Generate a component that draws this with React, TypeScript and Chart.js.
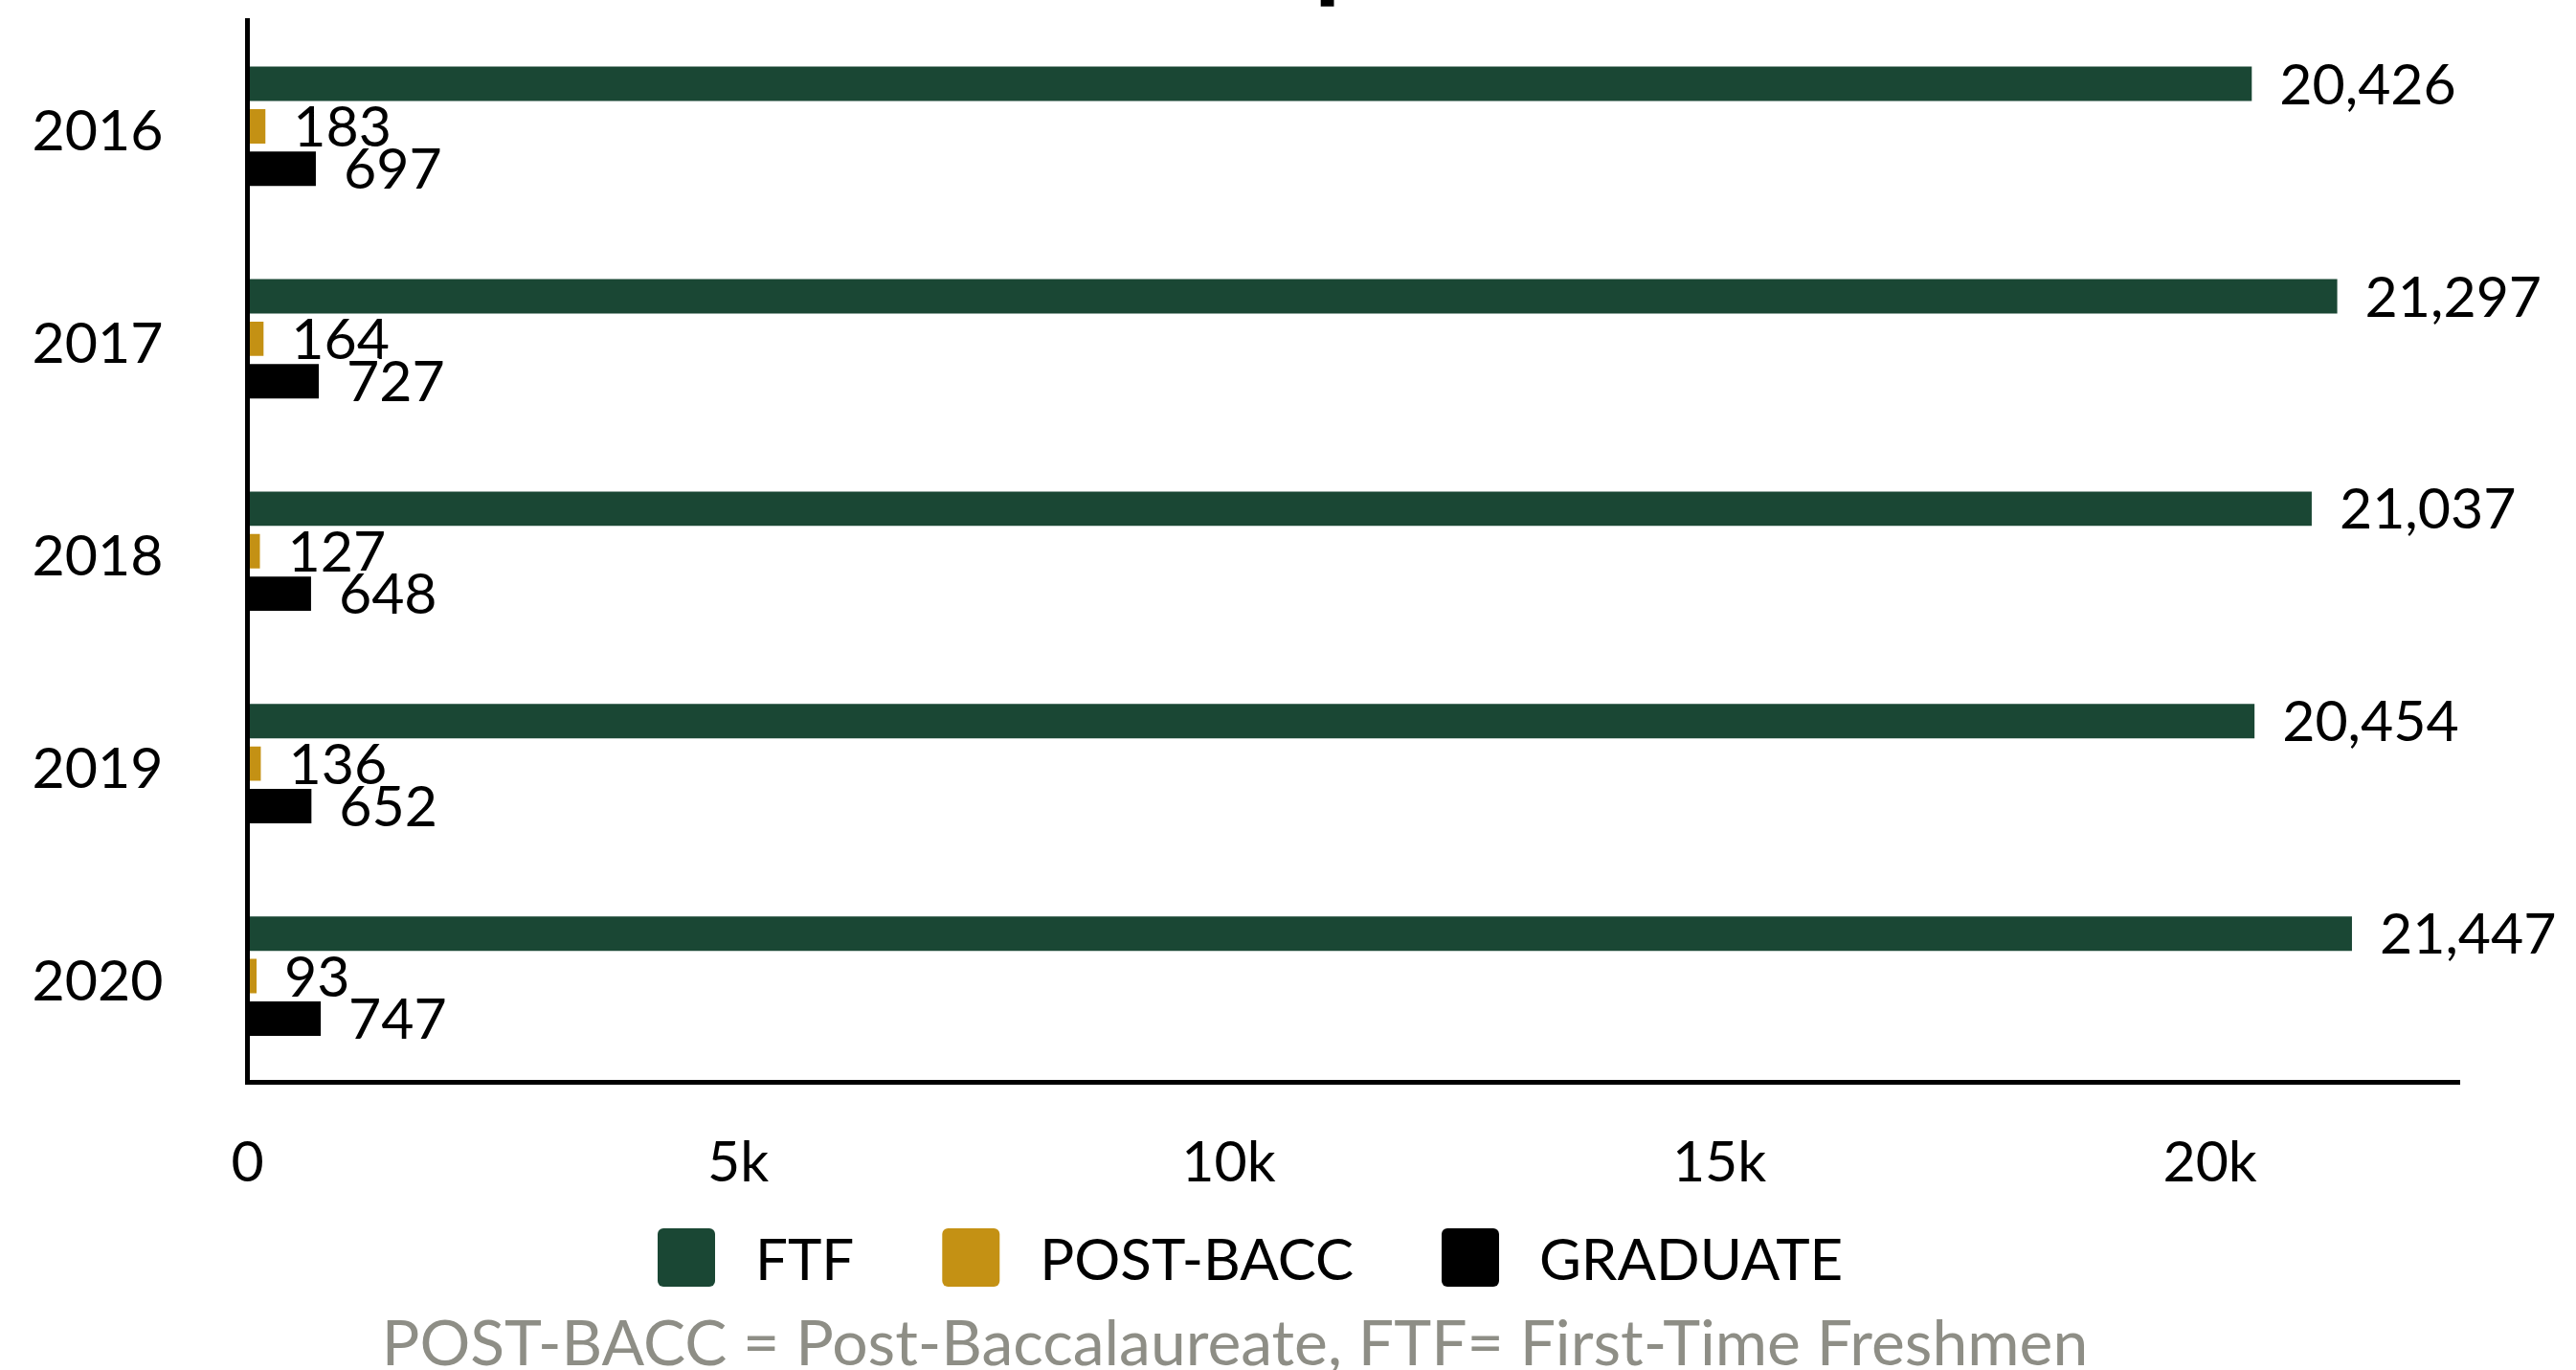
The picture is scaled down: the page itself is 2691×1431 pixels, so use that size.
import React, { useEffect, useRef } from "react";
import { Chart, registerables } from "chart.js";

Chart.register(...registerables);

const categories = ["2016", "2017", "2018", "2019", "2020"];
const ftfValues = [20426, 21297, 21037, 20454, 21447];
const postBaccValues = [183, 164, 127, 136, 93];
const graduateValues = [697, 727, 648, 652, 747];
const seriesNames = ["FTF", "POST-BACC", "GRADUATE"];
const seriesColors = ["#1a4734", "#c49114", "#000000"];
const xTickValues = [0, 5000, 10000, 15000, 20000];
const xTickLabels = ["0", "5k", "10k", "15k", "20k"];
const xMax = 22540;
const titleText = "Student Admission Comparison";
const footnote = "POST-BACC = Post-Baccalaureate, FTF= First-Time Freshmen";

const W = 2691;
const H = 1431;
const FONT = "Lato, 'Noto Sans', sans-serif";

const valueLabelPlugin = {
  id: "valueLabels",
  afterDatasetsDraw(chart: any) {
    const ctx = chart.ctx;
    ctx.save();
    ctx.font = `59px ${FONT}`;
    ctx.textAlign = "left";
    ctx.textBaseline = "middle";
    ctx.lineJoin = "round";
    chart.data.datasets.forEach((ds: any, di: number) => {
      const meta = chart.getDatasetMeta(di);
      meta.data.forEach((el: any, i: number) => {
        const txt = Number(ds.data[i]).toLocaleString("en-US");
        const x = el.x + 29;
        const y = el.y + 2;
        ctx.strokeStyle = "#ffffff";
        ctx.lineWidth = 6;
        ctx.strokeText(txt, x, y);
        ctx.fillStyle = "#000000";
        ctx.fillText(txt, x, y);
      });
    });
    ctx.restore();
  },
};

const decorPlugin = {
  id: "decor",
  afterDraw(chart: any) {
    const ctx = chart.ctx;
    ctx.save();
    // Title (mostly cut off at the top of the page)
    ctx.font = `900 100px ${FONT}`;
    ctx.fillStyle = "#000000";
    ctx.textAlign = "left";
    ctx.textBaseline = "alphabetic";
    const pre = ctx.measureText("Student Admission Com").width;
    ctx.fillText(titleText, 1382 - 8 - pre, -10);

    // Legend
    ctx.font = `60px ${FONT}`;
    ctx.textBaseline = "middle";
    let x = 687;
    const boxW = 60;
    const boxH = 61;
    const boxY = 1283;
    seriesNames.forEach((name, i) => {
      ctx.fillStyle = seriesColors[i];
      ctx.beginPath();
      (ctx as any).roundRect(x, boxY, boxW, boxH, 6);
      ctx.fill();
      const tx = x + boxW + 42;
      ctx.fillStyle = "#000000";
      ctx.fillText(name, tx, boxY + boxH / 2 + 4);
      x = tx + ctx.measureText(name).width + 92;
    });

    // Footnote
    ctx.font = `66px ${FONT}`;
    ctx.fillStyle = "#8e8e86";
    ctx.textAlign = "center";
    ctx.textBaseline = "alphabetic";
    ctx.fillText(footnote, 1290, 1426);
    ctx.restore();
  },
};

export default function App() {
  const ref = useRef<HTMLCanvasElement | null>(null);
  useEffect(() => {
    if (!ref.current) return;
    const chart = new Chart(ref.current, {
      type: "bar",
      data: {
        labels: categories,
        datasets: [
          { label: seriesNames[0], data: ftfValues, backgroundColor: seriesColors[0] },
          { label: seriesNames[1], data: postBaccValues, backgroundColor: seriesColors[1] },
          { label: seriesNames[2], data: graduateValues, backgroundColor: seriesColors[2] },
        ],
      },
      options: {
        indexAxis: "y",
        responsive: false,
        animation: false,
        devicePixelRatio: 1,
        layout: { padding: { top: 21, left: 0, right: 122, bottom: 0 } },
        datasets: {
          bar: { categoryPercentage: 0.6, barPercentage: 0.81, borderWidth: 0 },
        },
        plugins: {
          legend: { display: false },
          title: { display: false },
          tooltip: { enabled: false },
        },
        scales: {
          x: {
            type: "linear",
            min: 0,
            max: xMax,
            grid: { display: false, drawTicks: false },
            border: { display: true, color: "#000000", width: 5, z: 1 },
            afterBuildTicks: (s: any) => {
              s.ticks = xTickValues.map((v) => ({ value: v }));
            },
            afterFit: (s: any) => {
              s.height = H - 1130.5;
              s.paddingLeft = 0;
              s.paddingRight = 0;
            },
            ticks: {
              padding: 49,
              color: "#000000",
              font: { family: FONT, size: 59 },
              maxRotation: 0,
              autoSkip: false,
              callback: (v: any) => {
                const idx = xTickValues.indexOf(Number(v));
                return idx >= 0 ? xTickLabels[idx] : "";
              },
            },
          },
          y: {
            type: "category",
            grid: { display: false, drawTicks: false },
            border: { display: true, color: "#000000", width: 5, z: 1 },
            afterFit: (s: any) => {
              s.width = 258.5;
              s.paddingTop = 0;
              s.paddingBottom = 0;
            },
            ticks: {
              padding: 88,
              labelOffset: 6,
              color: "#000000",
              font: { family: FONT, size: 59 },
            },
          },
        },
      },
      plugins: [valueLabelPlugin, decorPlugin],
    } as any);
    return () => chart.destroy();
  }, []);
  return (
    <canvas
      ref={ref}
      width={W}
      height={H}
      style={{ position: "absolute", left: 0, top: 0, width: W, height: H, display: "block" }}
    />
  );
}
